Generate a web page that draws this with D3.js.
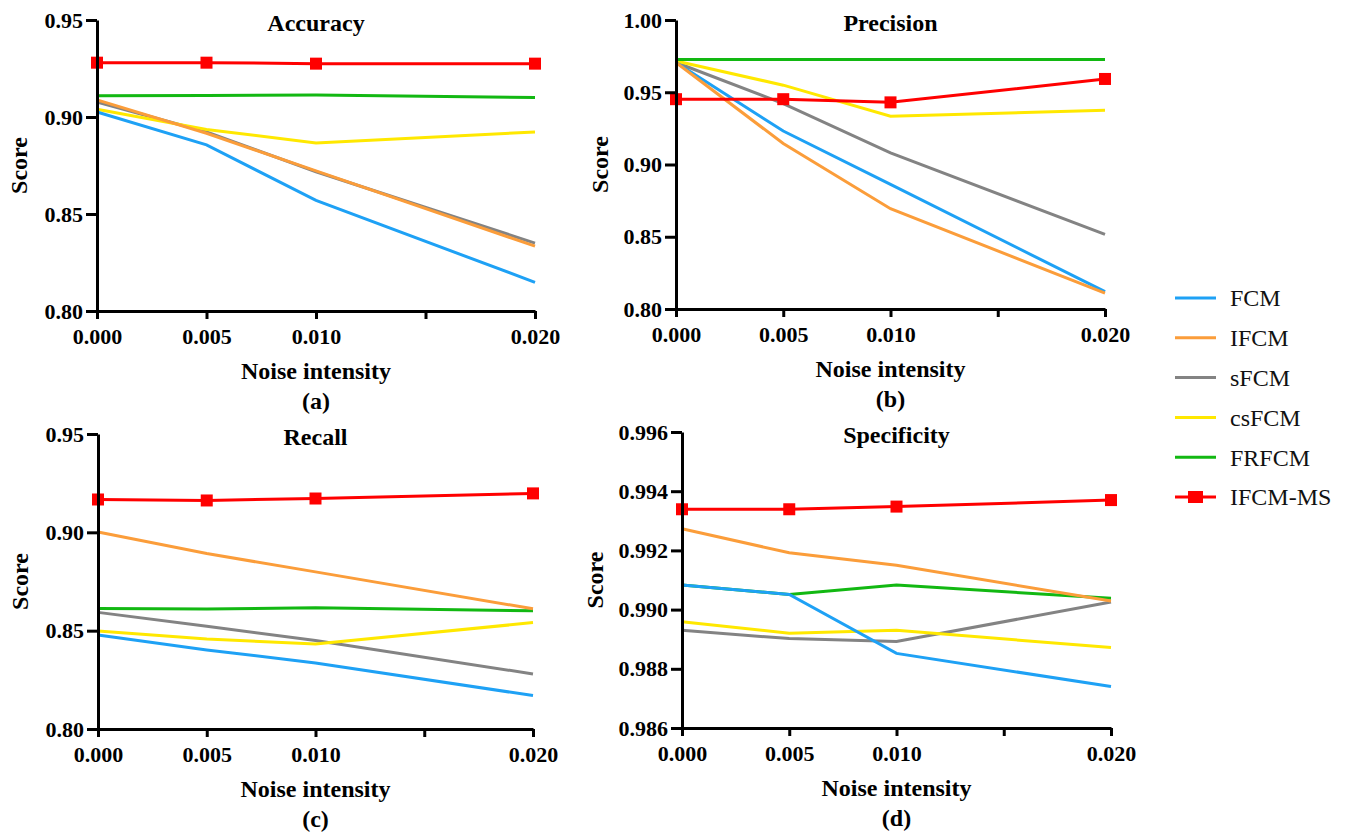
<!DOCTYPE html>
<html>
<head>
<meta charset="utf-8">
<script src="https://cdn.jsdelivr.net/npm/d3@7"></script>
<style>
body { margin: 0; background: #fff; }
svg text { font-family: "Liberation Serif", Tinos, "Times New Roman", Times, "DejaVu Serif", serif; }
</style>
</head>
<body>
<svg id="chart" width="1349" height="834"></svg>
<script>

// noise levels on the x axis
var noise = [0, 0.005, 0.010, 0.020];
var xTicks = [0, 0.005, 0.010, 0.015, 0.020];
var xTickLabels = ["0.000", "0.005", "0.010", "", "0.020"];

var methods = ["FCM", "IFCM", "sFCM", "csFCM", "FRFCM", "IFCM-MS"];
var colors = ["#1ea1f5", "#fb9d3a", "#838383", "#ffe800", "#12b812", "#ff0000"];

// one row per method, same order as methods
var accuracy = [
	[0.9026, 0.8856, 0.8570, 0.8148],
	[0.9088, 0.8916, 0.8722, 0.8334],
	[0.9077, 0.8923, 0.8718, 0.8350],
	[0.9040, 0.8936, 0.8866, 0.8923],
	[0.9110, 0.9111, 0.9113, 0.9100],
	[0.9280, 0.9280, 0.9275, 0.9275]
];
var precision = [
	[0.9706, 0.9232, 0.8862, 0.8120],
	[0.9706, 0.9145, 0.8694, 0.8110],
	[0.9706, 0.9422, 0.9080, 0.8516],
	[0.9716, 0.9549, 0.9334, 0.9376],
	[0.9727, 0.9727, 0.9727, 0.9727],
	[0.9452, 0.9452, 0.9430, 0.9592]
];
var recall = [
	[0.8478, 0.8402, 0.8336, 0.8170],
	[0.9002, 0.8892, 0.8799, 0.8611],
	[0.8593, 0.8522, 0.8450, 0.8280],
	[0.8498, 0.8458, 0.8432, 0.8541],
	[0.8613, 0.8610, 0.8617, 0.8601],
	[0.9167, 0.9162, 0.9172, 0.9198]
];
var specificity = [
	[0.99083, 0.99051, 0.98852, 0.98740],
	[0.99273, 0.99192, 0.99150, 0.99029],
	[0.98930, 0.98902, 0.98892, 0.99026],
	[0.98959, 0.98920, 0.98930, 0.98872],
	[0.99083, 0.99051, 0.99083, 0.99038],
	[0.99339, 0.99339, 0.99348, 0.99370]
];

var panels = [
	{ title: "Accuracy", tag: "(a)", data: accuracy, domain: [0.80, 0.95], ticks: [0.80, 0.85, 0.90, 0.95], fmt: ".2f",
	  x0: 97, x1: 535, y0: 20, y1: 311, scoreX: 27 },
	{ title: "Precision", tag: "(b)", data: precision, domain: [0.80, 1.00], ticks: [0.80, 0.85, 0.90, 0.95, 1.00], fmt: ".2f",
	  x0: 676, x1: 1105, y0: 20, y1: 309, scoreX: 608 },
	{ title: "Recall", tag: "(c)", data: recall, domain: [0.80, 0.95], ticks: [0.80, 0.85, 0.90, 0.95], fmt: ".2f",
	  x0: 98, x1: 533, y0: 434, y1: 729, scoreX: 28 },
	{ title: "Specificity", tag: "(d)", data: specificity, domain: [0.986, 0.996], ticks: [0.986, 0.988, 0.990, 0.992, 0.994, 0.996], fmt: ".3f",
	  x0: 682, x1: 1111, y0: 432, y1: 728, scoreX: 603 }
];

// draw order: which lines sit on top
var drawOrder = [2, 3, 4, 0, 1, 5];

var serif = '"Liberation Serif", Tinos, "Times New Roman", Times, "DejaVu Serif", serif';

var svg = d3.select("#chart");

panels.forEach(function(p) {
	var x = d3.scaleLinear().domain([0, 0.020]).range([p.x0, p.x1]);
	var y = d3.scaleLinear().domain(p.domain).range([p.y1, p.y0]);
	var g = svg.append("g");

	// lines
	var line = d3.line()
		.x(function(d, i) { return x(noise[i]); })
		.y(function(d) { return y(d); });

	drawOrder.forEach(function(k) {
		g.append("path")
			.datum(p.data[k])
			.attr("d", line)
			.attr("fill", "none")
			.attr("stroke", colors[k])
			.attr("stroke-width", 3);
	});

	// IFCM-MS square markers
	g.selectAll(".mk")
		.data(p.data[5])
		.enter()
		.append("rect")
		.attr("x", function(d, i) { return x(noise[i]) - 6; })
		.attr("y", function(d) { return y(d) - 6; })
		.attr("width", 12)
		.attr("height", 12)
		.attr("fill", colors[5]);

	// axes
	var xAxis = d3.axisBottom(x)
		.tickValues(xTicks)
		.tickFormat(function(d, i) { return xTickLabels[i]; })
		.tickSize(8)
		.tickSizeOuter(0)
		.tickPadding(9);
	var yAxis = d3.axisLeft(y)
		.tickValues(p.ticks)
		.tickFormat(d3.format(p.fmt))
		.tickSize(11)
		.tickSizeOuter(0)
		.tickPadding(3);

	var ga = g.append("g").attr("transform", "translate(0," + p.y1 + ")").call(xAxis);
	var gb = g.append("g").attr("transform", "translate(" + p.x0 + ",0)").call(yAxis);

	[ga, gb].forEach(function(a) {
		a.attr("font-family", null);
		a.select(".domain").attr("stroke", "#000").attr("stroke-width", 3);
		a.selectAll(".tick line").attr("stroke", "#000").attr("stroke-width", 3);
		a.selectAll(".tick text")
			.attr("fill", "#000")
			.style("font-family", serif)
			.style("font-size", "22px")
			.style("font-weight", "bold");
	});

	var cx = (p.x0 + p.x1) / 2;

	g.append("text")
		.attr("x", cx)
		.attr("y", p.y0 + 11)
		.attr("text-anchor", "middle")
		.style("font-size", "24px")
		.style("font-weight", "bold")
		.text(p.title);

	g.append("text")
		.attr("x", cx)
		.attr("y", p.y1 + 68)
		.attr("text-anchor", "middle")
		.style("font-size", "24px")
		.style("font-weight", "bold")
		.text("Noise intensity");

	g.append("text")
		.attr("x", cx)
		.attr("y", p.y1 + 98)
		.attr("text-anchor", "middle")
		.style("font-size", "24px")
		.style("font-weight", "bold")
		.text(p.tag);

	g.append("text")
		.attr("transform", "translate(" + p.scoreX + "," + (p.y0 + p.y1) / 2 + ") rotate(-90)")
		.attr("text-anchor", "middle")
		.style("font-size", "24px")
		.style("font-weight", "bold")
		.text("Score");
});

// legend
var legend = svg.append("g").attr("transform", "translate(1175,298)");
var rows = legend.selectAll("g")
	.data(methods)
	.enter()
	.append("g")
	.attr("transform", function(d, i) { return "translate(0," + i * 39.8 + ")"; });

rows.append("line")
	.attr("x1", 0).attr("x2", 41)
	.attr("y1", 0).attr("y2", 0)
	.attr("stroke", function(d, i) { return colors[i]; })
	.attr("stroke-width", 3);

rows.filter(function(d, i) { return i === 5; })
	.append("rect")
	.attr("x", 13).attr("y", -6)
	.attr("width", 15).attr("height", 12)
	.attr("fill", colors[5]);

rows.append("text")
	.attr("x", 55)
	.attr("y", 0)
	.attr("dy", "0.35em")
	.attr("fill", "#111")
	.style("font-size", "24px")
	.text(function(d) { return d; });

</script>
</body>
</html>
